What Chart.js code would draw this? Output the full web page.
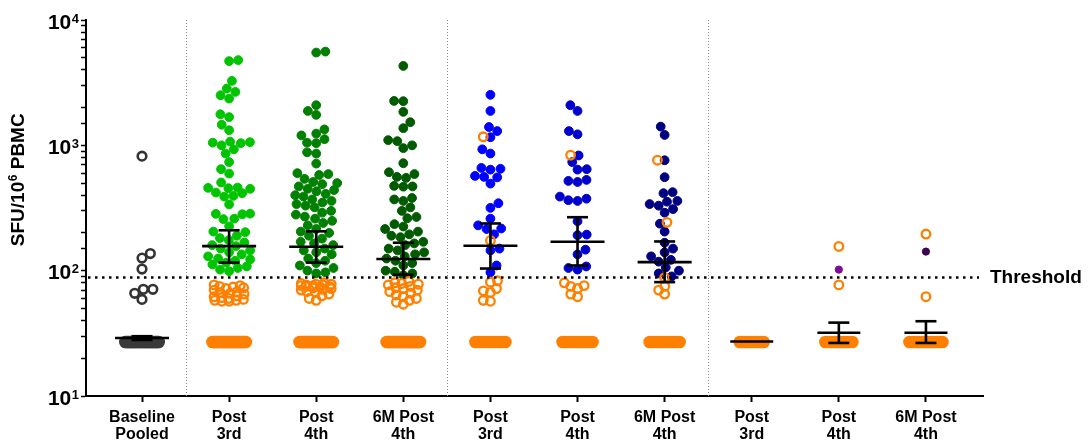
<!DOCTYPE html>
<html><head><meta charset="utf-8">
<script src="https://cdn.jsdelivr.net/npm/chart.js@4/dist/chart.umd.min.js"></script>
<style>html,body{margin:0;padding:0;background:#fff}canvas{display:block}</style>
</head><body>
<canvas id="c" width="1091" height="445"></canvas>
<script>
// ---------- DATA ----------
const categories = [["Baseline","Pooled"],["Post","3rd"],["Post","4th"],["6M Post","4th"],["Post","3rd"],["Post","4th"],["6M Post","4th"],["Post","3rd"],["Post","4th"],["6M Post","4th"]];
const yTickValues = [10, 100, 1000, 10000];
const yTickBase = ["10", "10", "10", "10"];
const yTickExp = ["1", "2", "3", "4"];
const yTitleParts = ["SFU/10", "6", " PBMC"];   // text, superscript, text
const thresholdValue = 88;
const thresholdLabel = "Threshold";

// filled (responder) points per group
const g0Filled = [];
const g1Filled = [4790,4700,3270,2840,2670,2510,2360,1770,1680,1460,1320,1070,1060,1050,1040,1000,930,860,735,645,595,505,460,458,455,450,420,415,395,390,338,285,284,282,260,258,226,205,203,190,182,175,168,160,157,150,145,140,135,130,125,123,120,116,112,108,105,102,99];
const g2Filled = [5600,5500,2090,1880,1750,1340,1240,1200,1120,1050,1040,880,860,715,600,590,580,540,510,500,490,470,450,440,430,410,400,390,370,360,350,340,330,320,300,290,280,270,260,250,240,230,215,205,200,190,180,170,165,160,150,145,140,135,125,120,115,110,105,100,97,95];
const g3Filled = [4300,2260,2250,1850,1530,1370,1100,1080,1000,950,720,610,590,560,550,475,470,468,380,370,360,320,300,268,262,235,225,215,205,195,190,185,170,165,160,150,145,140,135,130,125,120,115,110,100,98,95,92];
const g4Filled = [2530,1880,1400,1300,1160,930,860,660,650,640,570,560,555,495,345,317,260,230,217,215,195,150,145,110,97];
const g5Filled = [2090,1880,1300,1225,830,735,645,640,530,520,510,390,375,365,360,248,194,192,147,135,108,105,102];
const g6Filled = [1410,1210,760,557,423,415,360,355,340,330,310,290,237,205,167,150,140,130,122,118,106,100,95,90];
const g7Filled = [];
const g8Filled = [102];
const g9Filled = [142];

// open circles per group
const g0Open = [820,137,126,103,71,66,59,71];
const g1Open = [77,76,75,74,73,72,70,68,67,66,65,63,62,61,60,59,58,58,57,57];
const g2Open = [80,79,78,78,77,77,76,76,75,75,74,73,72,71,70,68,67,65,63,60,58];
const g3Open = [82,80,79,78,77,75,73,72,70,68,66,64,62,60,58,56,54];
const g4Open = [1170,174,83,81,72,69,67,58,57];
const g5Open = [836,80,76,75,72,65,62];
const g6Open = [761,243,88,75,70,65];
const g7Open = [];
const g8Open = [156,77];
const g9Open = [196,62];

// points at the detection floor per group
const g0Floor = [27,27,27,27,27,27,27,27,27,27,27,27,27,27,27,27,27,27,27,27,27,27,27,27,27,27,27,27,27,27];
const g1Floor = [27,27,27,27,27,27,27,27,27,27,27,27,27,27,27,27,27,27,27,27,27,27,27,27,27,27,27,27,27,27];
const g2Floor = [27,27,27,27,27,27,27,27,27,27,27,27,27,27,27,27,27,27,27,27,27,27,27,27,27,27,27,27,27,27];
const g3Floor = [27,27,27,27,27,27,27,27,27,27,27,27,27,27,27,27,27,27,27,27,27,27,27,27,27,27,27,27,27,27];
const g4Floor = [27,27,27,27,27,27,27,27,27,27,27];
const g5Floor = [27,27,27,27,27,27,27,27,27,27,27];
const g6Floor = [27,27,27,27,27,27,27,27,27,27,27];
const g7Floor = [27,27,27,27,27,27,27,27,27];
const g8Floor = [27,27,27,27,27,27,27,27,27,27];
const g9Floor = [27,27,27,27,27,27,27,27,27,27,27,27];

// median and 95% CI per group
const medians = [29, 157, 155, 124, 158, 170, 117, 27.2, 32, 32];
const ciLow   = [28, 116, 116, 93, 104, 110, 81, 27.2, 26.5, 26.5];
const ciHigh  = [30, 210, 206, 167, 238, 267, 171, 27.2, 38.5, 39.5];

// ---------- STYLE ----------
const filledColors = ["#3a3a3a","#00c400","#008000","#005a00","#0000ff","#0000cc","#000080","#ff8000","#7d0a9c","#3f0052"];
const floorColors  = ["#3a3a3a","#ff8000","#ff8000","#ff8000","#ff8000","#ff8000","#ff8000","#ff8000","#ff8000","#ff8000"];
const openColors   = ["#333333","#ff8000","#ff8000","#ff8000","#ff8000","#ff8000","#ff8000","#ff8000","#ff8000","#ff8000"];
const FONT = "'Liberation Sans', Arial, sans-serif";

const filledAll = [g0Filled,g1Filled,g2Filled,g3Filled,g4Filled,g5Filled,g6Filled,g7Filled,g8Filled,g9Filled];
const openAll = [g0Open,g1Open,g2Open,g3Open,g4Open,g5Open,g6Open,g7Open,g8Open,g9Open];
const floorAll = [g0Floor,g1Floor,g2Floor,g3Floor,g4Floor,g5Floor,g6Floor,g7Floor,g8Floor,g9Floor];

const openDatasets = [], filledDatasets = [], floorDatasets = [];
for (let g = 0; g < 10; g++) {
  openDatasets.push({data: openAll[g].map(v => ({x: g, y: v})), pointRadius: 4.3, pointBorderWidth: g === 0 ? 2.6 : 2.3,
    pointBorderColor: openColors[g], pointBackgroundColor: 'rgba(255,255,255,0)', showLine: false});
  const small = g >= 8;
  filledDatasets.push({data: filledAll[g].map(v => ({x: g, y: v})), pointRadius: small ? 3.6 : 4.4, pointBorderWidth: 1,
    pointBorderColor: filledColors[g], pointBackgroundColor: filledColors[g], showLine: false});
  floorDatasets.push({data: floorAll[g].map(v => ({x: g, y: v})), pointRadius: 6.3, pointBorderWidth: 0,
    pointBorderColor: floorColors[g], pointBackgroundColor: floorColors[g], showLine: false});
}

const overlay = {
  id: 'overlay',
  beforeDatasetsDraw(chart) {
    const {ctx, chartArea: a, scales: {x}} = chart;
    ctx.save();
    ctx.strokeStyle = '#8a8a8a'; ctx.lineWidth = 1; ctx.setLineDash([1, 2]);
    [0.5, 3.5, 6.5].forEach(v => {
      const px = Math.round(x.getPixelForValue(v)) + 0.5;
      ctx.beginPath(); ctx.moveTo(px, a.top); ctx.lineTo(px, a.bottom); ctx.stroke();
    });
    ctx.restore();
  },
  afterDatasetsDraw(chart) {
    const {ctx, chartArea: a, scales: {x, y}} = chart;
    ctx.save();
    const ty = y.getPixelForValue(thresholdValue);
    ctx.strokeStyle = '#000'; ctx.lineWidth = 2.5; ctx.setLineDash([2.5, 4.5]);
    ctx.beginPath(); ctx.moveTo(a.left + 2, ty); ctx.lineTo(a.right - 4, ty); ctx.stroke();
    ctx.setLineDash([]);
    ctx.lineWidth = 2.6; ctx.strokeStyle = '#000'; ctx.lineCap = 'butt';
    for (let g = 0; g < 10; g++) {
      const cx = x.getPixelForValue(g);
      const hw = g >= 7 ? 21.5 : 27;
      const my = y.getPixelForValue(medians[g]);
      const ly = y.getPixelForValue(ciLow[g]);
      const hy = y.getPixelForValue(ciHigh[g]);
      ctx.beginPath(); ctx.moveTo(cx - hw, my); ctx.lineTo(cx + hw, my); ctx.stroke();
      if (Math.abs(hy - ly) > 1) {
        ctx.beginPath(); ctx.moveTo(cx, hy); ctx.lineTo(cx, ly); ctx.stroke();
        ctx.beginPath(); ctx.moveTo(cx - 10.5, hy); ctx.lineTo(cx + 10.5, hy); ctx.stroke();
        ctx.beginPath(); ctx.moveTo(cx - 10.5, ly); ctx.lineTo(cx + 10.5, ly); ctx.stroke();
      }
    }
    ctx.restore();
  },
  afterDraw(chart) {
    const {ctx, chartArea: a, scales: {y}} = chart;
    ctx.save();
    ctx.fillStyle = '#000';
    ctx.textBaseline = 'alphabetic';
    yTickValues.forEach((v, i) => {
      const py = y.getPixelForValue(v);
      ctx.font = 'bold 13px ' + FONT;
      ctx.textAlign = 'right';
      ctx.fillText(yTickExp[i], a.left - 7, py + 2.5);
      const ew = ctx.measureText(yTickExp[i]).width;
      ctx.font = 'bold 21px ' + FONT;
      ctx.fillText(yTickBase[i], a.left - 7 - ew - 0.5, py + 8.5);
    });
    ctx.font = 'bold 19px ' + FONT;
    ctx.textAlign = 'left'; ctx.textBaseline = 'middle';
    ctx.fillText(thresholdLabel, 990, y.getPixelForValue(thresholdValue));
    ctx.translate(24, 180); ctx.rotate(-Math.PI / 2);
    ctx.textBaseline = 'alphabetic'; ctx.textAlign = 'left';
    const mainF = 'bold 19px ' + FONT, supF = 'bold 12px ' + FONT;
    ctx.font = mainF; const w0 = ctx.measureText(yTitleParts[0]).width, w2 = ctx.measureText(yTitleParts[2]).width;
    ctx.font = supF; const w1 = ctx.measureText(yTitleParts[1]).width;
    let sx = -(w0 + w1 + w2) / 2;
    ctx.font = mainF; ctx.fillText(yTitleParts[0], sx, 0); sx += w0;
    ctx.font = supF; ctx.fillText(yTitleParts[1], sx + 0.5, -7.5); sx += w1 + 0.5;
    ctx.font = mainF; ctx.fillText(yTitleParts[2], sx, 0);
    ctx.restore();
  }
};

const chart = new Chart(document.getElementById('c'), {
  type: 'scatter',
  data: {datasets: [...openDatasets, ...filledDatasets, ...floorDatasets]},
  options: {
    responsive: false, animation: false, events: [],
    layout: {padding: {left: 0, right: 108, top: 20, bottom: 0}},
    plugins: {legend: {display: false}, tooltip: {enabled: false}},
    scales: {
      x: {
        type: 'linear', min: -0.643, max: 9.655,
        afterBuildTicks: s => { s.ticks = categories.map((c, i) => ({value: i})); },
        afterFit: s => { s.height = 49; },
        grid: {display: true, drawOnChartArea: false, drawTicks: true, tickLength: 6, tickColor: '#000', tickWidth: 2},
        border: {display: true, color: '#000', width: 2},
        ticks: {autoSkip: false, maxRotation: 0, padding: 7, color: '#000',
          font: {family: FONT, size: 16, weight: 'bold', lineHeight: 1.06},
          callback: v => categories[v]}
      },
      y: {
        type: 'logarithmic', min: 10, max: 10000,
        afterFit: s => { s.width = 86; },
        grid: {display: true, drawOnChartArea: false, drawTicks: true, tickLength: 5, tickColor: '#000', tickWidth: 1.5},
        border: {display: true, color: '#000', width: 2},
        ticks: {autoSkip: false, padding: 3, color: '#000',
          font: {family: FONT, size: 20, weight: 'bold'},
          callback: () => ''}
      }
    }
  },
  plugins: [overlay]
});

// ---------- beeswarm layout (computed from values via chart scales) ----------
(function swarm() {
  const xs = chart.scales.x, ys = chart.scales.y;
  const ppu = xs.getPixelForValue(1) - xs.getPixelForValue(0);
  for (let g = 0; g < 10; g++) {
    const pts = [];
    filledAll[g].forEach((v, k) => pts.push({ds: filledDatasets[g], k, d: 9.2, max: 21, py: ys.getPixelForValue(v)}));
    openAll[g].forEach((v, k) => pts.push({ds: openDatasets[g], k, d: g === 0 ? 9.5 : 7.2, max: g === 0 ? 21 : 15, py: ys.getPixelForValue(v)}));
    pts.sort((a, b) => b.py - a.py);
    const placed = [];
    for (const p of pts) {
      const MAX = p.max;
      const D = q => Math.min(p.d, q.d);
      const near = placed.filter(q => Math.abs(q.py - p.py) < D(q));
      const need = q => Math.sqrt(D(q) ** 2 - (q.py - p.py) ** 2);
      const cands = [0];
      near.forEach(q => { const dx = need(q); cands.push(q.x + dx, q.x - dx); });
      cands.sort((a, b) => Math.abs(a) - Math.abs(b) || (placed.length % 2 ? a - b : b - a));
      let best = null;
      for (const c of cands) {
        if (Math.abs(c) > MAX) break;
        if (near.every(q => Math.abs(c - q.x) >= need(q) - 0.01)) { best = c; break; }
      }
      if (best === null) {
        let bo = Infinity;
        for (let c = -MAX; c <= MAX; c += 0.5) {
          let o = 0;
          near.forEach(q => { const d = Math.hypot(c - q.x, q.py - p.py); o += Math.max(0, D(q) - d); });
          if (o < bo - 1e-9) { bo = o; best = c; }
        }
      }
      p.x = best; placed.push(p);
    }
    pts.forEach(p => { p.ds.data[p.k].x = g + p.x / ppu; });
    const n = floorAll[g].length;
    const h = Math.min(16.7, (n - 1) * 1.5);
    floorDatasets[g].data.forEach((pt, k) => { pt.x = g + (n > 1 ? (-h + 2 * h * k / (n - 1)) : 0) / ppu; });
  }
  chart.update('none');
})();
</script>
</body></html>
